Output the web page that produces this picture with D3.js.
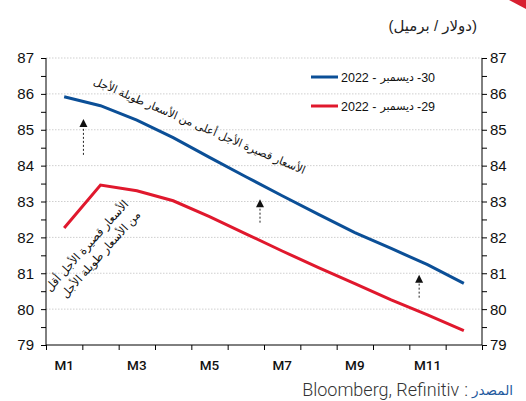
<!DOCTYPE html>
<html><head><meta charset="utf-8">
<script src="https://cdn.jsdelivr.net/npm/d3@7"></script>
<style>
html,body{margin:0;padding:0;background:#fff;}
svg{display:block;font-family:"Liberation Sans",Arial,"DejaVu Sans",sans-serif;}
</style></head>
<body>
<svg id="c" width="526" height="401"></svg>
<script>
// ---- data ----
const months = ["M1","M2","M3","M4","M5","M6","M7","M8","M9","M10","M11","M12"];
const dec30 = [85.92,85.67,85.27,84.78,84.23,83.69,83.16,82.64,82.13,81.69,81.24,80.72];
const dec29 = [82.26,83.46,83.30,83.02,82.58,82.10,81.62,81.16,80.71,80.26,79.84,79.40];
const seriesNames = ["30- ديسمبر - 2022","29- ديسمبر - 2022"];
const yTicks = [79,80,81,82,83,84,85,86,87];
const xLabels = ["M1","M3","M5","M7","M9","M11"];
const unitLabel = "(دولار / برميل)";
const sourceLabel = "Bloomberg, Refinitiv";
const sourcePrefix = "المصدر";
const noteHigh = "الأسعار قصيرة الأجل أعلى من الأسعار طويلة الأجل";
const noteLow = ["الأسعار قصيرة الأجل أقل","من الأسعار طويلة الأجل"];
// arrows: [month index, from value, to value]
const arrows = [[1.53,84.30,85.30],[6.39,82.41,83.06],[10.77,80.32,80.96]];

const svg = d3.select("#c");
const W=526,H=401;
const L=46,R=482,T=58,B=345;
const x = d3.scaleLinear().domain([0.5,12.5]).range([L,R]);
const y = d3.scaleLinear().domain([79,87]).range([B,T]);
const blue="#0b4f97", red="#e0182d";

// helper: place text pieces left-to-right visually
function chain(g, pieces, x0, yy, attrs){
  let xx=x0;
  pieces.forEach(p=>{
    const t=g.append("text").attr("x",xx).attr("y",yy).text(p.t);
    Object.entries(Object.assign({},attrs,p.a||{})).forEach(([k,v])=>t.attr(k,v));
    xx+=t.node().getComputedTextLength()+(p.gap||0);
  });
  return xx;
}

// decorative corner
svg.append("path").attr("d",`M${W-17},0 L${W},0 L${W},9 Z`).attr("fill","#d81f30");

// unit label
svg.append("text").attr("x",477).attr("y",31).attr("text-anchor","end")
  .attr("font-size",15).attr("fill","#222").text(unitLabel);

// gridlines
svg.append("g").selectAll("line").data(yTicks.filter(d=>d>79)).join("line")
  .attr("x1",L).attr("x2",R).attr("y1",d=>y(d)).attr("y2",d=>y(d))
  .attr("stroke","#cfcfcf").attr("stroke-width",1).attr("stroke-dasharray","1.5,1.5");

// y axes with half ticks
const halfTicks = d3.range(79,87.01,0.5);
const yl = svg.append("g").attr("transform",`translate(${L},0)`)
  .call(d3.axisLeft(y).tickValues(halfTicks).tickSize(5).tickFormat(()=>""));
const yr = svg.append("g").attr("transform",`translate(${R},0)`)
  .call(d3.axisRight(y).tickValues(halfTicks).tickSize(5).tickFormat(()=>""));
[yl,yr].forEach(g=>{g.select(".domain").attr("d",`M0,${T}V${B}`).attr("stroke","#000");g.selectAll(".tick line").attr("stroke","#000");});
svg.append("g").selectAll("text").data(yTicks).join("text")
  .attr("x",34).attr("y",d=>y(d)).attr("dy","0.36em").attr("text-anchor","end")
  .attr("font-size",15).attr("fill","#111").text(d=>d);
svg.append("g").selectAll("text").data(yTicks).join("text")
  .attr("x",R+8).attr("y",d=>y(d)).attr("dy","0.36em").attr("text-anchor","start")
  .attr("font-size",15).attr("fill","#111").text(d=>d);

// x axis
const xa = svg.append("g").attr("transform",`translate(0,${B})`)
  .call(d3.axisBottom(x).tickValues(d3.range(0.5,12.51,1)).tickSize(5).tickFormat(()=>""));
xa.select(".domain").attr("d",`M${L},0H${R}`).attr("stroke","#000");
xa.selectAll(".tick line").attr("stroke","#000");
svg.append("g").selectAll("text").data(xLabels).join("text")
  .attr("x",d=>x(months.indexOf(d)+1)).attr("y",370).attr("text-anchor","middle")
  .attr("font-family","Roboto,sans-serif").attr("font-weight",500)
  .attr("font-size",13.5).attr("fill","#111").text(d=>d);

// lines
const line = d3.line().x((d,i)=>x(i+1)).y(d=>y(d));
svg.append("path").datum(dec29).attr("d",line).attr("fill","none").attr("stroke",red).attr("stroke-width",3);
svg.append("path").datum(dec30).attr("d",line).attr("fill","none").attr("stroke",blue).attr("stroke-width",3);

// legend
const legItems=[{c:blue,y:77,t:seriesNames[0]},{c:red,y:106,t:seriesNames[1]}];
legItems.forEach(it=>{
  svg.append("line").attr("x1",311).attr("x2",338).attr("y1",it.y).attr("y2",it.y)
    .attr("stroke",it.c).attr("stroke-width",3);
  const parts=it.t.split(" - "); // ["30- ديسمبر","2022"]
  const dayMonth=parts[0].split(" "); // ["30-","ديسمبر"]
  chain(svg.append("g"),[
    {t:parts[1]+" -",gap:4},
    {t:dayMonth[1],gap:3,a:{"font-size":11}},
    {t:"-"+dayMonth[0].replace("-","")}
  ],341,it.y,{"font-size":12.5,"fill":"#111","dy":"0.36em"});
});

// arrows
arrows.forEach(a=>{
  const xx=x(a[0]), y0=y(a[1]), y1=y(a[2]);
  svg.append("line").attr("x1",xx).attr("x2",xx).attr("y1",y0).attr("y2",y1+6)
    .attr("stroke","#222").attr("stroke-width",1).attr("stroke-dasharray","2,2");
  svg.append("path").attr("d",`M${xx},${y1}L${xx-4},${y1+8}L${xx+4},${y1+8}Z`).attr("fill","#111");
});

// annotations
svg.append("g").attr("transform",`translate(${x(4.72)},${y(85.10)}) rotate(23.2)`)
  .append("text").attr("text-anchor","middle").attr("dy","0.3em").attr("font-size",11)
  .attr("fill","#111").text(noteHigh);
const g2=svg.append("g").attr("transform",`translate(${x(2.72)},${y(82.98)}) rotate(-48)`);
noteLow.forEach((t,i)=>g2.append("text").attr("x",0).attr("y",i*16).attr("dy","0.3em")
  .attr("text-anchor","end").attr("font-size",11.5).attr("fill","#111").text(t));

// source (visual order: latin, colon, arabic)
const sg=svg.append("g");
const arab=sg.append("text").attr("x",513).attr("y",395).attr("text-anchor","end")
  .attr("font-size",13.5).attr("fill","#1f5a9e").text(sourcePrefix);
const ax0=513-arab.node().getComputedTextLength();
const colon=sg.append("text").attr("x",ax0-4).attr("y",396).attr("text-anchor","end")
  .attr("font-family","Roboto,sans-serif").attr("font-weight",300).attr("font-size",18).attr("fill","#333").text(":");
sg.append("text").attr("x",ax0-4-colon.node().getComputedTextLength()-5).attr("y",396).attr("text-anchor","end")
  .attr("font-family","Roboto,sans-serif").attr("font-weight",300).attr("font-size",18).attr("fill","#333").text(sourceLabel);
</script>
</body></html>
